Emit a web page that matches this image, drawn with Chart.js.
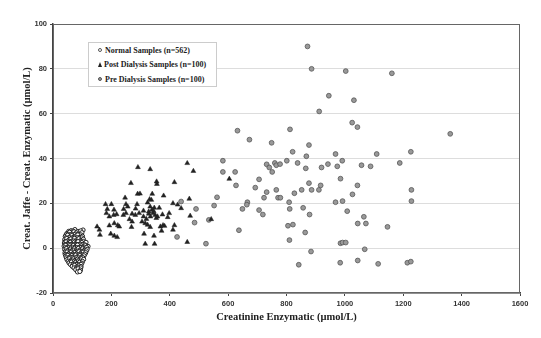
<!DOCTYPE html>
<html>
<head>
<meta charset="utf-8">
<script src="https://cdn.jsdelivr.net/npm/chart.js@4.4.0/dist/chart.umd.min.js"></script>
<style>
  html, body { margin: 0; padding: 0; background: #fff; }
  #wrap { position: relative; width: 541px; height: 338px; }
  #legend {
    position: absolute; left: 88px; top: 42px; width: 129px; height: 45px;
    box-sizing: border-box; border: 1px solid #ccc; background: #fff;
    padding-left: 9px; font: bold 8px "Liberation Serif", serif; color: #222;
  }
  .row { height: 14.5px; display: flex; align-items: center; white-space: nowrap; }
  .mk { width: 4px; height: 4px; margin-right: 3px; box-sizing: border-box; border-radius: 50%; }
  .open { border: 1px solid #555; background: #fff; }
  .grey { border: 1px solid #555; background: #999; }
  .tri { width: 0; height: 0; border-radius: 0; border-left: 2.5px solid transparent; border-right: 2.5px solid transparent; border-bottom: 5px solid #222; margin-right: 2px; }
</style>
</head>
<body>
<div id="wrap">
  <canvas id="chart" width="541" height="338"></canvas>
  <div id="legend">
    <div class="row"><span class="mk open"></span>Normal Samples (n=562)</div>
    <div class="row"><span class="mk tri"></span>Post Dialysis Samples (n=100)</div>
    <div class="row"><span class="mk grey"></span>Pre Dialysis Samples (n=100)</div>
  </div>
</div>
<script>
// values: [creatinine enzymatic, jaffe - enzymatic]
const normalPoints = [
  [62,7.8],[75,8.3],[88,7.4],[103,8.1],
  [54,7.5],[69,7.6],[84,7.3],[95,7.7],
  [48,6.6],[57,7.1],[66,6.4],[72,7.3],[80,6.8],[91,6.2],[99,6.9],
  [45,6.0],[53,6.1],[61,5.9],[69,6.0],[76,6.2],[83,5.8],[88,6.1],[96,5.9],
  [42,5.2],[50,5.8],[58,5.0],[64,5.6],[71,4.9],[78,5.4],[85,5.9],[93,4.8],[101,5.3],
  [44,4.6],[51,4.5],[57,4.7],[64,4.5],[71,4.6],[77,4.4],[84,4.7],[91,4.5],[99,4.6],
  [40,3.8],[47,4.3],[54,3.6],[61,4.1],[68,3.4],[74,4.4],[81,3.7],[88,4.2],[96,3.5],[104,4.0],
  [42,3.0],[49,3.1],[56,2.9],[63,3.0],[70,3.2],[77,2.9],[84,3.1],[90,3.0],[97,2.9],[103,3.1],
  [39,2.3],[45,2.8],[52,2.1],[59,2.6],[66,1.9],[73,2.7],[79,2.2],[86,2.9],[92,1.8],[99,2.5],[107,2.0],[113,2.6],
  [41,1.6],[48,1.5],[55,1.7],[62,1.6],[68,1.5],[75,1.7],[82,1.6],[88,1.5],[95,1.7],[102,1.6],[109,1.5],
  [38,0.9],[44,1.3],[51,0.6],[57,1.1],[64,0.4],[70,1.2],[77,0.7],[84,1.4],[90,0.3],[97,1.0],[104,0.5],[111,1.1],[120,0.8],
  [42,0.2],[49,0.1],[56,0.3],[62,0.2],[69,0.1],[76,0.3],[83,0.2],[89,0.1],[96,0.3],[103,0.2],[110,0.1],[115,0.3],
  [40,-0.6],[46,-0.2],[53,-0.9],[60,-0.4],[66,-1.0],[73,-0.3],[80,-0.8],[87,-0.1],[94,-0.7],[101,-0.3],[108,-0.9],[117,-0.5],
  [43,-1.3],[50,-1.2],[57,-1.4],[64,-1.3],[71,-1.2],[78,-1.4],[85,-1.3],[92,-1.2],[99,-1.4],[106,-1.3],[114,-1.2],
  [41,-2.1],[48,-1.7],[55,-2.4],[62,-1.8],[68,-2.5],[75,-1.9],[82,-2.3],[89,-1.6],[96,-2.2],[103,-1.8],[112,-2.0],
  [42,-2.8],[46,-3.0],[53,-2.7],[60,-2.9],[67,-2.8],[74,-3.0],[81,-2.7],[88,-2.9],[95,-2.8],[102,-3.0],[109,-2.7],
  [44,-3.6],[51,-3.2],[58,-3.9],[65,-3.3],[71,-3.8],[78,-3.1],[85,-3.7],[92,-3.3],[99,-3.9],[106,-3.4],
  [46,-4.3],[53,-4.4],[61,-4.2],[67,-4.3],[74,-4.4],[81,-4.2],[88,-4.3],[95,-4.4],[102,-4.2],
  [48,-5.1],[56,-4.7],[63,-5.3],[70,-4.8],[77,-5.4],[84,-4.9],[91,-5.2],[98,-4.7],[105,-5.0],
  [52,-5.8],[59,-5.9],[66,-5.7],[73,-5.8],[80,-5.9],[87,-5.7],[94,-5.8],[101,-5.9],
  [55,-6.6],[63,-6.2],[70,-6.9],[77,-6.4],[84,-6.8],[91,-6.3],[99,-6.7],
  [60,-7.3],[68,-7.4],[75,-7.2],[82,-7.3],[89,-7.4],[96,-7.2],
  [66,-8.1],[74,-7.7],[82,-8.3],[89,-7.9],[96,-8.2],
  [72,-8.8],[80,-8.9],[87,-8.7],[95,-8.8],
  [78,-9.6],[86,-9.2],[94,-9.8],
  [84,-10.6],[92,-10.4]
];

const postPoints = [
  [291,36.1],[333,35.2],[267,29],[290,24.2],[298,24.3],[340,24.2],[247,22.5],[331,21.8],[324,20.3],
  [180,19.6],[200,19.6],[250,19.6],[288,19.6],[186,17.4],[209,17.1],[242,17.4],[256,18.5],[283,17.6],
  [310,16.7],[328,16.3],[339,17.1],[183,15.6],[193,14.1],[208,14.8],[218,15.1],[241,14.8],[250,15.6],
  [271,15.3],[282,14.8],[295,15.6],[310,14.1],[328,15.3],[334,14.1],[262,12.9],[271,11.8],[305,11.8],
  [316,11.1],[210,11.1],[222,10.2],[227,9.6],[151,9.6],[159,8.2],[193,10.1],[269,9.4],[324,10.4],
  [333,9.4],[198,6.4],[210,5.5],[220,4.9],[161,5.9],[312,6.4],[346,5.5],[316,1.9],[348,1.9],
  [460,37.9],[481,34.4],[355,29.7],[356,28.6],[416,29.4],[379,23.4],[337,21.5],[411,20],[427,19.4],
  [439,17.8],[467,22],[347,18],[364,18],[343,15.6],[350,14.8],[358,14.1],[375,15],[398,15.6],
  [393,13.8],[470,14.4],[368,9.6],[377,10.2],[382,9.9],[416,10.2],[411,8.2],[372,7.7],[460,2.7],
  [604,30.9],[542,12.9],[333,18.5],[354,13.4],[345,16.5],[320,13]
];

const prePoints = [
  [872,90],[886,80],[1003,79],[1161,78],[945,68],[1031,66],[912,61],[1025,56],[1043,54],[812,53],
  [1361,51],[749,47],[877,46],[821,43],[1226,43],[868,41],[968,42],[1109,42],[801,39],[760,38],
  [765,37],[778,37.5],[838,38],[942,37.5],[991,39],[974,36.5],[1057,37],[1088,36.5],[1188,38],[866,35.6],
  [920,36],[751,34],[985,31],[765,26],[852,26],[877,29],[917,28],[886,26],[911,26],[1043,28],
  [827,24.5],[1026,24],[1228,26],[771,22.5],[779,22.5],[809,20.5],[968,20.5],[992,21],[1228,21],[811,17.5],
  [857,18],[1008,16.5],[879,15],[1065,14],[805,10],[822,10.5],[1044,11],[1072,11],[1146,9.5],[864,7],
  [810,3.6],[985,2.2],[992,2.5],[1003,2.5],[1068,-0.5],[884,-1.5],[842,-7.4],[984,-6.5],[1044,-5.5],[1114,-7],
  [1214,-6.5],[1226,-6],
  [632,52.4],[673,48.4],[582,39],[732,37.4],[582,34],[624,34],[627,28],[693,27],[706,30.7],[732,25],
  [562,22.7],[552,19],[666,20.5],[664,19.4],[649,17.5],[706,17],[719,15],[439,20.8],[490,17.5],[485,11.4],
  [534,12.6],[425,5],[637,8],[524,2],[723,22.5],[741,36]
];

const xTicks = [0, 200, 400, 600, 800, 1000, 1200, 1400, 1600];
const yTicks = [-20, 0, 20, 40, 60, 80, 100];

const toXY = arr => arr.map(p => ({ x: p[0], y: p[1] }));

// box round the plot area
const frame = {
  id: 'frame',
  afterDraw(c) {
    const { ctx, chartArea: a } = c;
    ctx.save();
    ctx.strokeStyle = '#666';
    ctx.lineWidth = 1;
    ctx.strokeRect(a.left + 0.5, a.top + 0.5, a.right - a.left - 1, a.bottom - a.top - 1);
    ctx.restore();
  }
};

const tickFont = { family: 'Liberation Sans', size: 7.5, weight: 'bold' };
const titleFont = { family: 'Liberation Serif', size: 10.5, weight: 'bold' };

new Chart(document.getElementById('chart'), {
  type: 'scatter',
  data: {
    datasets: [
      {
        label: 'Normal Samples (n=562)',
        data: toXY(normalPoints),
        pointStyle: 'circle', pointRadius: 2.1,
        backgroundColor: '#fff', borderColor: '#222', borderWidth: 1
      },
      {
        label: 'Post Dialysis Samples (n=100)',
        data: toXY(postPoints),
        pointStyle: 'triangle', pointRadius: 2.8,
        backgroundColor: '#222', borderColor: '#222', borderWidth: 0.5
      },
      {
        label: 'Pre Dialysis Samples (n=100)',
        data: toXY(prePoints),
        pointStyle: 'circle', pointRadius: 2.4,
        backgroundColor: '#999', borderColor: '#555', borderWidth: 0.8
      }
    ]
  },
  options: {
    responsive: false,
    animation: false,
    layout: { padding: { left: 17, right: 21, top: 24, bottom: 10 } },
    plugins: { legend: { display: false }, tooltip: { enabled: false } },
    scales: {
      x: {
        type: 'linear', min: xTicks[0], max: xTicks[xTicks.length - 1],
        afterBuildTicks: s => { s.ticks = xTicks.map(v => ({ value: v })); },
        afterFit: s => { s.height = 35; },
        ticks: { font: tickFont, color: '#333', padding: 3, maxRotation: 0, callback: v => String(v) },
        grid: { drawOnChartArea: false, tickLength: 3, tickColor: '#444' },
        border: { color: '#444', width: 1.5 },
        title: { display: true, text: 'Creatinine Enzymatic (µmol/L)', font: titleFont, color: '#222', padding: { top: 4, bottom: 4 } }
      },
      y: {
        min: yTicks[0], max: yTicks[yTicks.length - 1],
        afterBuildTicks: s => { s.ticks = yTicks.map(v => ({ value: v })); },
        afterFit: s => { s.width = 36; },
        ticks: { font: tickFont, color: '#333', padding: 3, callback: v => String(v) },
        grid: { color: '#ddd', tickLength: 3, tickColor: '#444' },
        border: { color: '#444', width: 1.5 },
        title: { display: true, text: 'Creat. Jaffe - Creat. Enzymatic (µmol/L)', font: titleFont, color: '#222', padding: { top: 4, bottom: 4 } }
      }
    }
  },
  plugins: [frame]
});
</script>
</body>
</html>
